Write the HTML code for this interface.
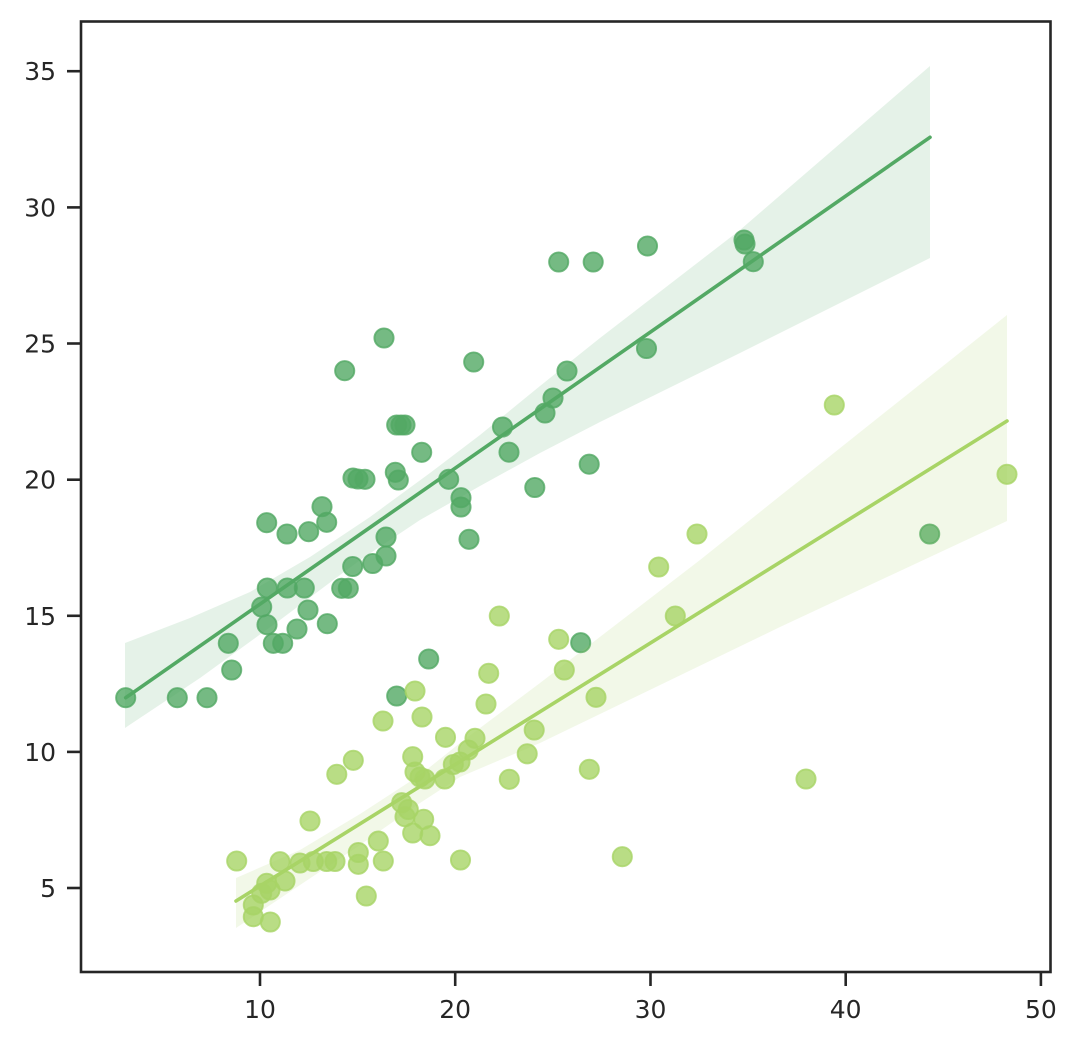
<!DOCTYPE html>
<html>
<head>
<meta charset="utf-8">
<style>
  html,body{margin:0;padding:0;background:#ffffff;}
  svg{display:block;}
  text{font-family:"DejaVu Sans","Liberation Sans",sans-serif;font-size:25px;fill:#262626;}
</style>
</head>
<body>
<svg width="1080" height="1046" viewBox="0 0 1080 1046" xmlns="http://www.w3.org/2000/svg">
  <rect x="0" y="0" width="1080" height="1046" fill="#ffffff"/>

  <g fill="#53a964" fill-opacity="0.8" stroke="#53a964" stroke-opacity="0.8" stroke-width="1.9">
    <circle cx="125.7" cy="697.7" r="9.6"/>
    <circle cx="177.3" cy="697.7" r="9.6"/>
    <circle cx="207" cy="697.7" r="9.6"/>
    <circle cx="228.3" cy="643.3" r="9.6"/>
    <circle cx="231.7" cy="670" r="9.6"/>
    <circle cx="266.7" cy="522.7" r="9.6"/>
    <circle cx="267.3" cy="588" r="9.6"/>
    <circle cx="261.7" cy="607" r="9.6"/>
    <circle cx="267" cy="624.7" r="9.6"/>
    <circle cx="273.3" cy="643.3" r="9.6"/>
    <circle cx="282.7" cy="643.3" r="9.6"/>
    <circle cx="287" cy="534" r="9.6"/>
    <circle cx="287.3" cy="588" r="9.6"/>
    <circle cx="297" cy="629" r="9.6"/>
    <circle cx="304.3" cy="588" r="9.6"/>
    <circle cx="308.7" cy="531.7" r="9.6"/>
    <circle cx="308" cy="610" r="9.6"/>
    <circle cx="322" cy="506.7" r="9.6"/>
    <circle cx="326.7" cy="522.3" r="9.6"/>
    <circle cx="327.3" cy="623.7" r="9.6"/>
    <circle cx="341.7" cy="588.3" r="9.6"/>
    <circle cx="348.3" cy="588.3" r="9.6"/>
    <circle cx="352.7" cy="566.5" r="9.6"/>
    <circle cx="344.7" cy="370.7" r="9.6"/>
    <circle cx="353" cy="478" r="9.6"/>
    <circle cx="358" cy="479" r="9.6"/>
    <circle cx="365" cy="479.3" r="9.6"/>
    <circle cx="372.7" cy="563.5" r="9.6"/>
    <circle cx="384" cy="338" r="9.6"/>
    <circle cx="386" cy="537" r="9.6"/>
    <circle cx="386" cy="556" r="9.6"/>
    <circle cx="395.3" cy="472.3" r="9.6"/>
    <circle cx="398.3" cy="480" r="9.6"/>
    <circle cx="396.7" cy="425" r="9.6"/>
    <circle cx="401" cy="425" r="9.6"/>
    <circle cx="405" cy="425" r="9.6"/>
    <circle cx="421.7" cy="452.3" r="9.6"/>
    <circle cx="396.7" cy="696" r="9.6"/>
    <circle cx="428.7" cy="659" r="9.6"/>
    <circle cx="448.7" cy="479.3" r="9.6"/>
    <circle cx="461" cy="497.7" r="9.6"/>
    <circle cx="461" cy="507" r="9.6"/>
    <circle cx="469" cy="539.3" r="9.6"/>
    <circle cx="473.7" cy="362" r="9.6"/>
    <circle cx="502.5" cy="427" r="9.6"/>
    <circle cx="509" cy="452.2" r="9.6"/>
    <circle cx="534.8" cy="487.5" r="9.6"/>
    <circle cx="545" cy="413" r="9.6"/>
    <circle cx="553" cy="398" r="9.6"/>
    <circle cx="558.7" cy="262" r="9.6"/>
    <circle cx="567" cy="371" r="9.6"/>
    <circle cx="580.7" cy="642.7" r="9.6"/>
    <circle cx="589.2" cy="464.2" r="9.6"/>
    <circle cx="593.2" cy="262" r="9.6"/>
    <circle cx="647.5" cy="246" r="9.6"/>
    <circle cx="646.5" cy="348.5" r="9.6"/>
    <circle cx="744" cy="240" r="9.6"/>
    <circle cx="745" cy="244" r="9.6"/>
    <circle cx="753.3" cy="261.7" r="9.6"/>
    <circle cx="929.7" cy="534" r="9.6"/>
  </g>

  <path d="M125,643 L190,618 L250,592 L310,557 L370,517 L430,473 L480,435 L540,386 L600,338 L740,230 L930,66 L930,258 L740,353 L600,422 L540,453 L480,486 L420,520 L360,560 L280,620 L200,678 L125,728 Z" fill="#52a968" fill-opacity="0.15" stroke="none"/>
  <line x1="125.7" y1="697.7" x2="930" y2="137.3" stroke="#53a964" stroke-width="3.6" stroke-linecap="round"/>

  <g fill="#a8d466" fill-opacity="0.8" stroke="#a8d466" stroke-opacity="0.8" stroke-width="1.9">
    <circle cx="236.7" cy="861" r="9.6"/>
    <circle cx="253.3" cy="905" r="9.6"/>
    <circle cx="253.3" cy="916.7" r="9.6"/>
    <circle cx="261.7" cy="893.3" r="9.6"/>
    <circle cx="266.7" cy="883.3" r="9.6"/>
    <circle cx="270" cy="890" r="9.6"/>
    <circle cx="270.3" cy="922" r="9.6"/>
    <circle cx="280" cy="861.7" r="9.6"/>
    <circle cx="285" cy="881" r="9.6"/>
    <circle cx="300" cy="863" r="9.6"/>
    <circle cx="310" cy="821" r="9.6"/>
    <circle cx="313.3" cy="861.5" r="9.6"/>
    <circle cx="326.7" cy="861.5" r="9.6"/>
    <circle cx="335" cy="861.5" r="9.6"/>
    <circle cx="336.8" cy="774.3" r="9.6"/>
    <circle cx="353.3" cy="760.3" r="9.6"/>
    <circle cx="358.3" cy="852.5" r="9.6"/>
    <circle cx="358.3" cy="864.3" r="9.6"/>
    <circle cx="366.3" cy="896" r="9.6"/>
    <circle cx="378.3" cy="841" r="9.6"/>
    <circle cx="383.3" cy="861" r="9.6"/>
    <circle cx="383" cy="721" r="9.6"/>
    <circle cx="401.7" cy="802.7" r="9.6"/>
    <circle cx="405" cy="816.7" r="9.6"/>
    <circle cx="408.3" cy="809.5" r="9.6"/>
    <circle cx="412.7" cy="756.7" r="9.6"/>
    <circle cx="412.7" cy="833" r="9.6"/>
    <circle cx="415" cy="691" r="9.6"/>
    <circle cx="415" cy="772" r="9.6"/>
    <circle cx="420" cy="777" r="9.6"/>
    <circle cx="422" cy="717" r="9.6"/>
    <circle cx="423.7" cy="819.3" r="9.6"/>
    <circle cx="425" cy="779" r="9.6"/>
    <circle cx="430" cy="835.7" r="9.6"/>
    <circle cx="444.7" cy="779" r="9.6"/>
    <circle cx="445.5" cy="737.3" r="9.6"/>
    <circle cx="453.3" cy="764.5" r="9.6"/>
    <circle cx="460" cy="762" r="9.6"/>
    <circle cx="460.5" cy="860" r="9.6"/>
    <circle cx="468.3" cy="750" r="9.6"/>
    <circle cx="475" cy="738.3" r="9.6"/>
    <circle cx="486" cy="704" r="9.6"/>
    <circle cx="488.7" cy="673.3" r="9.6"/>
    <circle cx="499.3" cy="616" r="9.6"/>
    <circle cx="509.3" cy="779.3" r="9.6"/>
    <circle cx="527.2" cy="753.8" r="9.6"/>
    <circle cx="534.2" cy="730" r="9.6"/>
    <circle cx="558.7" cy="639.3" r="9.6"/>
    <circle cx="564.3" cy="670" r="9.6"/>
    <circle cx="589.3" cy="769.3" r="9.6"/>
    <circle cx="596" cy="697.3" r="9.6"/>
    <circle cx="622.3" cy="856.7" r="9.6"/>
    <circle cx="658.7" cy="567" r="9.6"/>
    <circle cx="675.3" cy="616" r="9.6"/>
    <circle cx="697" cy="534" r="9.6"/>
    <circle cx="806" cy="779" r="9.6"/>
    <circle cx="834.3" cy="405" r="9.6"/>
    <circle cx="1007" cy="474.3" r="9.6"/>
  </g>

  <path d="M236,878 L300,850 L360,814 L420,775 L460,743 L540,683 L700,560 L780,496 L1007,315 L1007,521 L780,627 L540,743 L460,777 L420,803 L360,845 L300,885 L236,928 Z" fill="#a8d066" fill-opacity="0.15" stroke="none"/>
  <line x1="236" y1="901" x2="1007" y2="421" stroke="#a8d466" stroke-width="3.6" stroke-linecap="round"/>

  <rect x="81" y="21.5" width="969.5" height="950.5" fill="none" stroke="#262626" stroke-width="2.6"/>

  <g stroke="#262626" stroke-width="2.6">
    <line x1="67" y1="71.2" x2="81" y2="71.2"/>
    <line x1="67" y1="207.4" x2="81" y2="207.4"/>
    <line x1="67" y1="343.5" x2="81" y2="343.5"/>
    <line x1="67" y1="479.7" x2="81" y2="479.7"/>
    <line x1="67" y1="615.8" x2="81" y2="615.8"/>
    <line x1="67" y1="751.9" x2="81" y2="751.9"/>
    <line x1="67" y1="888" x2="81" y2="888"/>
    <line x1="260" y1="972" x2="260" y2="986"/>
    <line x1="455.2" y1="972" x2="455.2" y2="986"/>
    <line x1="650.5" y1="972" x2="650.5" y2="986"/>
    <line x1="845.7" y1="972" x2="845.7" y2="986"/>
    <line x1="1040.9" y1="972" x2="1040.9" y2="986"/>
  </g>
  <g text-anchor="end">
    <text x="56" y="80.2">35</text>
    <text x="56" y="216.4">30</text>
    <text x="56" y="352.5">25</text>
    <text x="56" y="488.7">20</text>
    <text x="56" y="624.8">15</text>
    <text x="56" y="760.9">10</text>
    <text x="56" y="897">5</text>
  </g>
  <g text-anchor="middle">
    <text x="260" y="1018">10</text>
    <text x="455.2" y="1018">20</text>
    <text x="650.5" y="1018">30</text>
    <text x="845.7" y="1018">40</text>
    <text x="1040.9" y="1018">50</text>
  </g>
</svg>
</body>
</html>
